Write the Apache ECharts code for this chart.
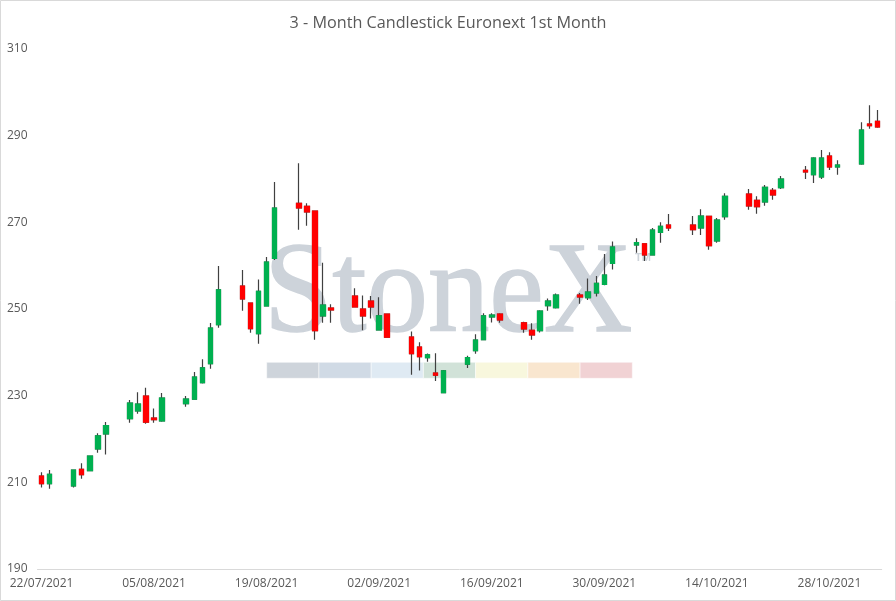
<!DOCTYPE html>
<html>
<head>
<meta charset="utf-8">
<script src="https://cdn.jsdelivr.net/npm/echarts@6/dist/echarts.min.js"></script>
<style>
html,body{margin:0;padding:0;background:#fff;}
#chart{width:896px;height:601px;}
</style>
</head>
<body>
<div id="chart"></div>
<script>
// Trading days (dd/mm/yyyy)
var tradeDates = [
'22/07/2021','23/07/2021','26/07/2021','27/07/2021','28/07/2021','29/07/2021','30/07/2021',
'02/08/2021','03/08/2021','04/08/2021','05/08/2021','06/08/2021',
'09/08/2021','10/08/2021','11/08/2021','12/08/2021','13/08/2021',
'16/08/2021','17/08/2021','18/08/2021','19/08/2021','20/08/2021',
'23/08/2021','24/08/2021','25/08/2021','26/08/2021','27/08/2021',
'30/08/2021','31/08/2021','01/09/2021','02/09/2021','03/09/2021',
'06/09/2021','07/09/2021','08/09/2021','09/09/2021','10/09/2021',
'13/09/2021','14/09/2021','15/09/2021','16/09/2021','17/09/2021',
'20/09/2021','21/09/2021','22/09/2021','23/09/2021','24/09/2021',
'27/09/2021','28/09/2021','29/09/2021','30/09/2021','01/10/2021',
'04/10/2021','05/10/2021','06/10/2021','07/10/2021','08/10/2021',
'11/10/2021','12/10/2021','13/10/2021','14/10/2021','15/10/2021',
'18/10/2021','19/10/2021','20/10/2021','21/10/2021','22/10/2021',
'25/10/2021','26/10/2021','27/10/2021','28/10/2021','29/10/2021',
'01/11/2021','02/11/2021','03/11/2021'
];
var openV = [
211.45,209.7,209.2,213.0,212.7,217.7,221.2,
224.7,226.5,229.9,224.8,224.15,
228.15,229.2,233.0,237.4,246.4,
255.3,251.35,244.3,250.7,261.7,
274.4,273.7,272.6,248.4,250.2,
253.0,250.0,251.8,245.2,248.8,
243.5,241.2,238.8,235.2,230.7,
237.3,240.4,242.9,248.2,248.8,
246.8,245.1,245.0,250.75,250.3,
253.2,252.6,253.7,255.7,260.5,
264.8,265.05,262.5,267.7,269.35,
269.35,268.7,271.4,265.7,271.3,
276.5,275.1,274.7,277.4,278.0,
282.0,281.0,280.5,285.3,282.8,
283.5,292.65,293.3
];
var closeV = [
209.7,211.85,212.85,211.75,216.05,220.7,223.1,
228.3,228.05,223.9,224.45,229.45,
229.2,234.3,236.4,245.6,254.4,
252.35,245.45,254.1,260.8,273.3,
273.35,272.4,245.0,250.9,249.8,
250.5,248.4,250.5,248.4,243.5,
239.7,239.0,239.4,234.75,235.7,
238.8,242.8,248.4,248.6,247.5,
245.4,244.05,249.5,251.8,253.2,
252.8,253.9,255.9,257.8,264.3,
265.3,262.5,268.2,269.1,268.7,
268.3,271.45,264.6,270.5,276.0,
273.8,273.6,278.1,276.35,280.0,
281.65,284.8,284.8,282.8,283.2,
291.3,292.3,292.0
];
var lowV = [
208.8,208.5,208.8,210.8,212.6,216.8,216.4,
223.75,225.8,223.5,223.75,224.0,
227.45,229.05,232.8,236.2,245.7,
249.6,244.5,242.0,250.6,261.3,
268.3,269.2,242.9,246.8,246.8,
250.4,245.1,247.8,245.1,243.4,
234.8,235.8,237.8,233.4,230.6,
236.4,239.7,242.8,246.9,246.8,
244.5,242.9,244.6,249.6,250.1,
251.2,252.1,252.9,255.5,259.1,
263.0,261.1,262.4,265.3,268.0,
267.1,267.1,263.7,265.3,270.6,
272.9,272.0,273.8,275.2,277.7,
280.0,279.1,280.0,282.1,281.0,
283.3,291.6,291.8
];
var highV = [
212.3,212.85,212.9,214.4,216.2,221.3,223.9,
229.0,230.8,231.8,227.05,230.6,
229.9,235.45,238.4,246.75,259.9,
259.0,251.4,256.8,262.0,279.3,
283.65,274.4,272.6,260.7,251.1,
254.8,253.1,253.0,252.7,248.8,
244.8,242.3,239.75,239.8,235.9,
239.2,244.2,249.0,249.0,249.0,
247.05,246.7,249.7,252.4,253.6,
253.7,257.05,257.6,262.7,265.6,
266.35,265.05,268.7,270.0,271.9,
271.45,273.0,271.4,271.0,276.7,
277.7,276.0,278.6,277.9,280.7,
283.0,285.0,286.7,286.2,284.35,
293.1,297.0,295.9
];
var yTicks = [190, 210, 230, 250, 270, 290, 310];
var titleText = '3 - Month Candlestick Euronext 1st Month';
var bandColors = ['#ced4db','#d0dae5','#dfeaf3','#d1e2d8','#f8f7dd','#f9e6cf','#f1d2d4'];

// Build full calendar of categories (weekends as gaps)
function pad(n){return (n<10?'0':'')+n;}
function parseD(s){var p=s.split('/');return new Date(Date.UTC(+p[2],+p[1]-1,+p[0]));}
function fmt(d){return pad(d.getUTCDate())+'/'+pad(d.getUTCMonth()+1)+'/'+d.getUTCFullYear();}
var categories = [];
var start = parseD(tradeDates[0]), end = parseD(tradeDates[tradeDates.length-1]);
for (var t = start.getTime(); t <= end.getTime(); t += 86400000) categories.push(fmt(new Date(t)));
var idx = {};
tradeDates.forEach(function(d,i){idx[d]=i;});
var fullData = [], bodyData = [];
categories.forEach(function(c){
  var i = idx[c];
  if (i === undefined) { fullData.push(['-','-','-','-']); bodyData.push(['-','-','-','-']); return; }
  fullData.push([openV[i], closeV[i], lowV[i], highV[i]]);
  bodyData.push([openV[i], closeV[i], Math.min(openV[i],closeV[i]), Math.max(openV[i],closeV[i])]);
});

var chart = echarts.init(document.getElementById('chart'), null, {renderer:'canvas'});
var graphics = [
  {type:'rect', shape:{x:0.5,y:0.5,width:895,height:600}, style:{fill:'none', stroke:'#d9d9d9', lineWidth:1}, silent:true, z:-10},
  {type:'text', x:264, y:297, scaleX:0.945, scaleY:1, style:{text:'StoneX', font:'130px "Liberation Serif"', fill:'#cdd3da', stroke:'#cdd3da', lineWidth:1.5, textAlign:'left', textVerticalAlign:'middle'}, silent:true, z:-5},
  {type:'text', x:635, y:258, style:{text:'TM', font:'bold 11px "Liberation Sans"', fill:'#cdd3da', textAlign:'left', textVerticalAlign:'middle'}, silent:true, z:-5}
];
bandColors.forEach(function(col, k){
  graphics.push({type:'rect', shape:{x:266.7 + k*52.23, y:362.3, width:52.23, height:16}, style:{fill:col, stroke:'rgba(255,255,255,0.5)', lineWidth:1}, silent:true, z:-5});
});

chart.setOption({
  animation:false,
  backgroundColor:'#ffffff',
  title:{text:titleText, left:'center', top:10, textStyle:{fontFamily:'Open Sans', fontSize:16.2, fontWeight:'normal', color:'#595959'}},
  graphic: graphics,
  grid:{left:37.5, right:14.3, top:49, bottom:32, containLabel:false},
  xAxis:{
    type:'category', data:categories, boundaryGap:true,
    axisLine:{show:true, lineStyle:{color:'#d9d9d9', width:1}},
    axisTick:{show:false},
    axisLabel:{interval:function(i){return i % 14 === 0;}, hideOverlap:false, color:'#595959', fontSize:12, fontFamily:'Open Sans', margin:9},
    splitLine:{show:false}
  },
  yAxis:{
    type:'value', min:yTicks[0], max:yTicks[yTicks.length-1], interval:20,
    axisLine:{show:false}, axisTick:{show:false}, splitLine:{show:false},
    axisLabel:{color:'#595959', fontSize:12, fontFamily:'Open Sans', margin:10}
  },
  series:[
    {type:'candlestick', name:'wick', data:fullData, barWidth:5, z:2,
     itemStyle:{color:'#404040', color0:'#404040', borderColor:'#404040', borderColor0:'#404040', borderWidth:1.2}},
    {type:'candlestick', name:'body', data:bodyData, barWidth:5, z:3,
     itemStyle:{color:'#00b050', color0:'#ff0000', borderColor:'#00b050', borderColor0:'#ff0000', borderWidth:1.2}}
  ]
});
</script>
</body>
</html>
